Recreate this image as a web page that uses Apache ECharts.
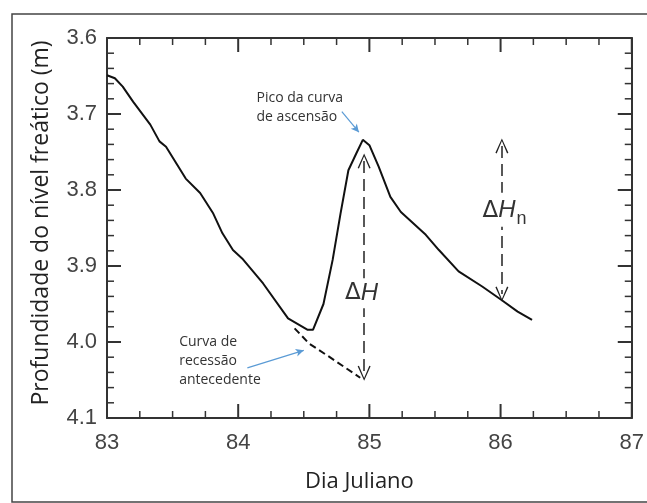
<!DOCTYPE html>
<html>
<head>
<meta charset="utf-8">
<script src="https://cdn.jsdelivr.net/npm/echarts@6/dist/echarts.min.js"></script>
<style>
  html, body { margin: 0; padding: 0; background: #fff; }
  #chart { width: 647px; height: 503px; }
</style>
</head>
<body>
<div id="chart"></div>
<script>
// curva observada (dia juliano, profundidade em m)
var dayMain = [83.00, 83.06, 83.12, 83.20, 83.33, 83.40, 83.45, 83.60, 83.71, 83.81, 83.88, 83.96, 84.03, 84.19, 84.38, 84.53, 84.57, 84.65, 84.72, 84.78, 84.84, 84.90, 84.95, 85.00, 85.07, 85.16, 85.24, 85.43, 85.53, 85.68, 85.86, 86.01, 86.13, 86.24];
var depthMain = [3.649, 3.653, 3.664, 3.684, 3.714, 3.736, 3.743, 3.785, 3.804, 3.831, 3.857, 3.879, 3.890, 3.923, 3.969, 3.984, 3.984, 3.950, 3.892, 3.831, 3.774, 3.752, 3.734, 3.741, 3.769, 3.809, 3.829, 3.859, 3.879, 3.907, 3.927, 3.945, 3.960, 3.971];
// curva de recessao antecedente (tracejada)
var dayRec = [84.43, 84.54, 84.69, 84.93];
var depthRec = [3.982, 4.002, 4.019, 4.047];
// eixos
var xMin = 83, xMax = 87, xStep = 1, xMinorSplit = 4;
var yMin = 3.6, yMax = 4.1, yStep = 0.1, yMinorSplit = 5;
// setas delta H: [dia, topo, base]
var deltaH = [84.96, 3.762, 4.041];
var deltaHn = [86.01, 3.742, 3.937];

var mainData = dayMain.map(function (d, i) { return [d, depthMain[i]]; });
var recData = dayRec.map(function (d, i) { return [d, depthRec[i]]; });

var vArrow = 'path://M5,0 L10,12 L9,12.5 L5,2.2 L1,12.5 L0,12 Z';
var txtFont = 'Open Sans';
var blue = '#5b9bd5';
var axisColor = '#333';

var myChart = echarts.init(document.getElementById('chart'));

function axis(pos, extra) {
    return Object.assign({
        type: 'value', position: pos,
        axisLine: { show: true, onZero: false, lineStyle: { color: axisColor, width: 2 } },
        axisTick: { show: false },
        minorTick: { show: false },
        splitLine: { show: false },
        minorSplitLine: { show: false }
    }, extra);
}

var borderRect = {
    type: 'rect', shape: { x: 12, y: 14, width: 650, height: 488 },
    style: { fill: 'none', stroke: '#444', lineWidth: 1.5 }, silent: true
};

var option = {
    animation: false,
    backgroundColor: '#fff',
    grid: { left: 107, top: 38, right: 13, bottom: 85 },
    xAxis: [
        axis('bottom', {
            min: xMin, max: xMax, interval: xStep,
            axisLabel: { fontSize: 22, color: '#444', margin: 14, fontFamily: 'Liberation Sans' },
            name: 'Dia Juliano', nameLocation: 'middle', nameGap: 53,
            nameTextStyle: { fontSize: 22, color: '#222', fontFamily: txtFont, padding: [0, 20, 0, 0] }
        }),
        axis('top', { min: xMin, max: xMax, interval: xStep, axisLabel: { show: false } })
    ],
    yAxis: [
        axis('left', {
            min: yMin, max: yMax, interval: yStep, inverse: true,
            axisLabel: { fontSize: 22, color: '#444', margin: 10, fontFamily: 'Liberation Sans',
                formatter: function (v) { return v.toFixed(1); } },
            name: 'Profundidade do nível freático (m)', nameLocation: 'middle', nameRotate: 90, nameGap: 54,
            nameTextStyle: { fontSize: 23, color: '#222', fontFamily: txtFont, padding: [0, 0, 0, 10] }
        }),
        axis('right', { min: yMin, max: yMax, interval: yStep, inverse: true, axisLabel: { show: false } })
    ],
    graphic: { elements: [borderRect] },
    series: [{
        type: 'line', data: mainData, symbol: 'none',
        lineStyle: { color: '#111', width: 2 },
        markLine: {
            silent: true, animation: false,
            label: { show: false },
            data: [
                [{ coord: [deltaH[0], deltaH[1]], symbol: vArrow, symbolSize: [13, 15],
                   lineStyle: { color: '#222', width: 1.5, type: [12, 6] }, itemStyle: { color: '#222' } },
                 { coord: [deltaH[0], deltaH[2]], symbol: vArrow, symbolSize: [13, 15] }],
                [{ coord: [deltaHn[0], deltaHn[1]], symbol: vArrow, symbolSize: [13, 15],
                   lineStyle: { color: '#222', width: 1.5, type: [12, 6] }, itemStyle: { color: '#222' } },
                 { coord: [deltaHn[0], deltaHn[2]], symbol: vArrow, symbolSize: [13, 15] }],
                [{ coord: [84.79, 3.697], symbol: 'none',
                   lineStyle: { color: blue, width: 1.2, type: 'solid' }, itemStyle: { color: blue } },
                 { coord: [84.92, 3.724], symbol: 'arrow', symbolSize: [6, 8] }],
                [{ coord: [84.07, 4.034], symbol: 'none',
                   lineStyle: { color: blue, width: 1.2, type: 'solid' }, itemStyle: { color: blue } },
                 { coord: [84.50, 4.011], symbol: 'arrow', symbolSize: [6, 8] }]
            ]
        }
    }, {
        type: 'line', data: recData, symbol: 'none',
        lineStyle: { color: '#111', width: 2, type: [7, 4] },
        markPoint: {
            silent: true, animation: false,
            data: [
                { coord: [deltaH[0] - 0.02, 3.936], symbol: 'rect', symbolSize: [38, 30],
                  itemStyle: { color: '#fff' },
                  label: { show: true, position: 'inside', formatter: '{d|Δ}{h|H}',
                      rich: { d: { fontSize: 23, color: '#333', fontFamily: 'DejaVu Sans' },
                              h: { fontSize: 24, color: '#333', fontStyle: 'italic', fontFamily: 'Liberation Sans' } } } },
                { coord: [deltaHn[0] + 0.02, 3.826], symbol: 'rect', symbolSize: [52, 34],
                  itemStyle: { color: '#fff' },
                  label: { show: true, position: 'inside', formatter: '{d|Δ}{h|H}{n|n}',
                      rich: { d: { fontSize: 23, color: '#333', fontFamily: 'DejaVu Sans', verticalAlign: 'bottom', lineHeight: 26 },
                              h: { fontSize: 24, color: '#333', fontStyle: 'italic', fontFamily: 'Liberation Sans', verticalAlign: 'bottom', lineHeight: 26 },
                              n: { fontSize: 18, color: '#333', fontFamily: 'Liberation Sans', verticalAlign: 'bottom', lineHeight: 18, padding: [0, 0, -5, 1] } } } },
                { coord: [84.14, 3.691], symbol: 'circle', symbolSize: 0,
                  label: { show: true, position: 'right', distance: 0, align: 'left',
                      formatter: 'Pico da curva\nde ascensão', fontSize: 14, lineHeight: 19,
                      color: '#333', fontFamily: txtFont } },
                { coord: [83.55, 4.025], symbol: 'circle', symbolSize: 0,
                  label: { show: true, position: 'right', distance: 0, align: 'left',
                      formatter: 'Curva de\nrecessão\nantecedente', fontSize: 14, lineHeight: 19,
                      color: '#333', fontFamily: txtFont } }
            ]
        }
    }]
};

myChart.setOption(option);

// marcas internas dos quatro lados, posicionadas pela escala do grafico
function tickLine(x1, y1, x2, y2, major) {
    return {
        type: 'line', silent: true, z: 50,
        shape: { x1: x1, y1: y1, x2: x2, y2: y2 },
        style: { stroke: axisColor, lineWidth: major ? 2 : 1.5 }
    };
}

function buildTicks() {
    var els = [borderRect];
    var nx = Math.round((xMax - xMin) / xStep);
    var ny = Math.round((yMax - yMin) / yStep);
    var i, k, v, major, a, b, len;
    for (i = 0; i <= nx; i++) {
        for (k = 0; k < (i < nx ? xMinorSplit : 1); k++) {
            v = xMin + i * xStep + k * xStep / xMinorSplit;
            major = (k === 0);
            len = major ? 14 : 7;
            a = myChart.convertToPixel({ gridIndex: 0 }, [v, yMax]);
            b = myChart.convertToPixel({ gridIndex: 0 }, [v, yMin]);
            els.push(tickLine(a[0], a[1], a[0], a[1] - len, major));
            els.push(tickLine(b[0], b[1], b[0], b[1] + len, major));
        }
    }
    for (i = 0; i <= ny; i++) {
        for (k = 0; k < (i < ny ? yMinorSplit : 1); k++) {
            v = yMin + i * yStep + k * yStep / yMinorSplit;
            major = (k === 0);
            len = major ? 14 : 7;
            a = myChart.convertToPixel({ gridIndex: 0 }, [xMin, v]);
            b = myChart.convertToPixel({ gridIndex: 0 }, [xMax, v]);
            els.push(tickLine(a[0], a[1], a[0] + len, a[1], major));
            els.push(tickLine(b[0], b[1], b[0] - len, b[1], major));
        }
    }
    myChart.setOption({ graphic: { elements: els } });
}

buildTicks();

window.addEventListener('resize', function () {
    myChart.resize();
    buildTicks();
});
</script>
</body>
</html>
